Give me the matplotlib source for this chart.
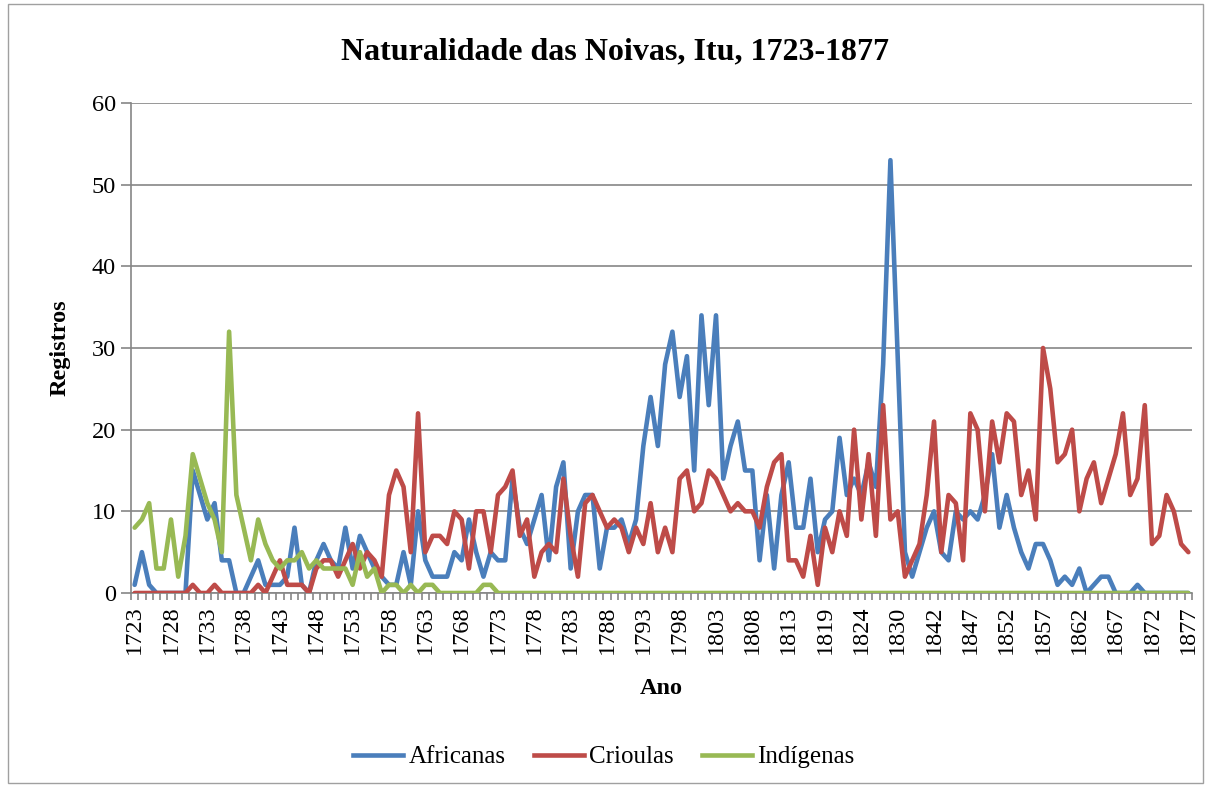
import matplotlib
matplotlib.use("Agg")
import matplotlib.pyplot as plt
from matplotlib.ticker import FixedLocator, NullFormatter
from matplotlib.patches import Rectangle
from matplotlib.lines import Line2D

plt.rcParams['font.family'] = ['Liberation Serif', 'DejaVu Serif']

years = (list(range(1723, 1814)) + [1814, 1815, 1816, 1818, 1819]
         + [1820, 1821, 1822, 1823, 1824] + [1825, 1826, 1827, 1828, 1830]
         + [1831, 1832, 1833, 1834] + list(range(1842, 1878)))

africanas = [1, 5, 1, 0, 0, 0, 0, 0, 15, 12, 9, 11, 4, 4, 0, 0, 2, 4, 1, 1,
             1, 2, 8, 1, 0, 4, 6, 4, 3, 8, 3, 7, 5, 3, 2, 1, 1, 5, 1, 10,
             4, 2, 2, 2, 5, 4, 9, 5, 2, 5, 4, 4, 14, 8, 6, 9, 12, 4, 13, 16,
             3, 10, 12, 12, 3, 8, 8, 9, 6, 9, 18, 24, 18, 28, 32, 24, 29, 15, 34, 23,
             34, 14, 18, 21, 15, 15, 4, 12, 3, 12, 16, 8, 8, 14, 5, 9, 10, 19, 12, 14,
             12, 16, 13, 28, 53, 29, 5, 2, 5, 8, 10, 5, 4, 10, 9, 10, 9, 12, 17, 8,
             12, 8, 5, 3, 6, 6, 4, 1, 2, 1, 3, 0, 1, 2, 2, 0, 0, 0, 1, 0,
             0, 0, 0, 0, 0, 0]

crioulas = [0, 0, 0, 0, 0, 0, 0, 0, 1, 0, 0, 1, 0, 0, 0, 0, 0, 1, 0, 2,
            4, 1, 1, 1, 0, 3, 4, 4, 2, 4, 6, 3, 5, 4, 2, 12, 15, 13, 5, 22,
            5, 7, 7, 6, 10, 9, 3, 10, 10, 5, 12, 13, 15, 7, 9, 2, 5, 6, 5, 14,
            7, 2, 11, 12, 10, 8, 9, 8, 5, 8, 6, 11, 5, 8, 5, 14, 15, 10, 11, 15,
            14, 12, 10, 11, 10, 10, 8, 13, 16, 17, 4, 4, 2, 7, 1, 8, 5, 10, 7, 20,
            9, 17, 7, 23, 9, 10, 2, 4, 6, 12, 21, 5, 12, 11, 4, 22, 20, 10, 21, 16,
            22, 21, 12, 15, 9, 30, 25, 16, 17, 20, 10, 14, 16, 11, 14, 17, 22, 12, 14, 23,
            6, 7, 12, 10, 6, 5]

indigenas = [8, 9, 11, 3, 3, 9, 2, 7, 17, 14, 11, 9, 5, 32, 12, 8, 4, 9, 6, 4,
             3, 4, 4, 5, 3, 4, 3, 3, 3, 3, 1, 5, 2, 3, 0, 1, 1, 0, 1, 0,
             1, 1, 0, 0, 0, 0, 0, 0, 1, 1] + [0] * 96

series_names = ['Africanas', 'Crioulas', 'Indígenas']
colors = ['#4A7EBB', '#BE4B48', '#98B954']

W, H = 1207, 787
fig = plt.figure(figsize=(W / 100, H / 100), dpi=100)
fig.patch.set_facecolor('white')

# outer chart frame
fig.patches.append(Rectangle((8 / W, 4 / H), (1203 - 8) / W, (783 - 4) / H,
                             transform=fig.transFigure, fill=False,
                             edgecolor='#A0A0A0', linewidth=1.0))

ax = fig.add_axes([131 / W, 1 - 593 / H, (1192 - 131) / W, (593 - 103) / H])

n = len(years)
x = list(range(n))
for vals, c, name in zip([africanas, crioulas, indigenas], colors, series_names):
    ax.plot(x, vals, color=c, linewidth=3.3, solid_joinstyle='round',
            solid_capstyle='round', label=name, zorder=3)

ax.set_xlim(-0.5, n - 0.5)
ax.set_ylim(0, 60)
ax.set_yticks(range(0, 61, 10))
ax.yaxis.grid(True, color='#868686', linewidth=1.2)
ax.set_axisbelow(True)

major = list(range(0, n, 5))
ax.xaxis.set_major_locator(FixedLocator(major))
ax.set_xticklabels([str(years[i]) for i in major], rotation=90, fontsize=17.5)
ax.xaxis.set_minor_locator(FixedLocator([i - 0.5 for i in range(n + 1)]))
ax.xaxis.set_minor_formatter(NullFormatter())
ax.tick_params(axis='x', which='major', length=0, pad=9)
ax.tick_params(axis='x', which='minor', length=5, width=1.2, color='#868686',
               direction='out')
ax.tick_params(axis='y', length=7, width=1.2, color='#868686', labelsize=17.5,
               pad=4)

for s in ['top', 'right']:
    ax.spines[s].set_visible(False)
for s in ['left', 'bottom']:
    ax.spines[s].set_color('#868686')
    ax.spines[s].set_linewidth(1.2)

fig.text(615 / W, 1 - 52 / H, 'Naturalidade das Noivas, Itu, 1723-1877',
         ha='center', va='center', fontsize=23, fontweight='bold')
fig.text(60 / W, 1 - 348 / H, 'Registros', ha='center', va='center',
         rotation=90, fontsize=17.5, fontweight='bold')
fig.text(661 / W, 1 - 688 / H, 'Ano', ha='center', va='center',
         fontsize=17.5, fontweight='bold')

handles = [Line2D([0], [0], color=c, linewidth=3.3) for c in colors]
fig.legend(handles, series_names, loc='center', bbox_to_anchor=(604 / W, 1 - 757 / H),
           ncol=3, frameon=False, fontsize=18, handlelength=2.0,
           handletextpad=0.2, columnspacing=1.15)

fig.savefig('out.png', dpi=100)
